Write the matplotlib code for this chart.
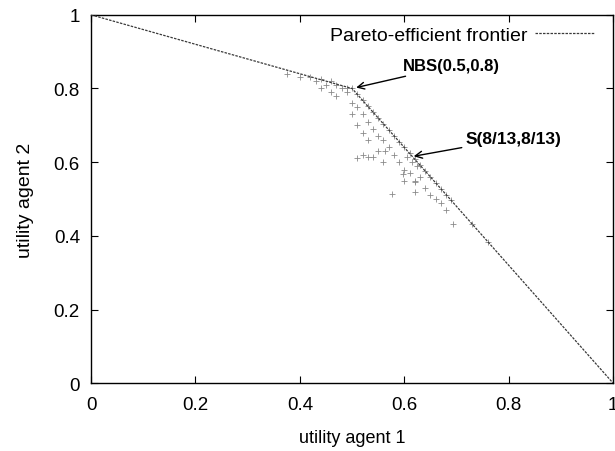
import matplotlib
matplotlib.use("Agg")
import matplotlib.pyplot as plt

plt.rcParams['font.family'] = ['Liberation Sans', 'DejaVu Sans']

# Pareto-efficient frontier vertices
frontier_x = [0.0, 0.5, 1.0]
frontier_y = [1.0, 0.8, 0.0]

# Negotiation outcomes (utility of agent 1, utility of agent 2)
outcome_x = [0.375, 0.40, 0.42, 0.43, 0.44, 0.45, 0.46, 0.47, 0.48, 0.49, 0.44, 0.46, 0.47, 0.49, 0.50,
             0.51, 0.52, 0.53, 0.54, 0.55, 0.56, 0.57, 0.58, 0.59, 0.60, 0.61, 0.62, 0.63, 0.64,
             0.65, 0.66, 0.67, 0.68, 0.69, 0.73, 0.76,
             0.50, 0.50, 0.51, 0.51, 0.52, 0.52, 0.53, 0.53, 0.54, 0.55, 0.55, 0.56, 0.57, 0.56,
             0.58, 0.59, 0.60, 0.60, 0.61, 0.62, 0.63, 0.62, 0.64, 0.65, 0.66, 0.67, 0.68,
             0.53, 0.54, 0.563, 0.598, 0.577, 0.693, 0.621, 0.52, 0.51, 0.615, 0.625, 0.605]
outcome_y = [0.84, 0.83, 0.83, 0.82, 0.825, 0.81, 0.82, 0.81, 0.80, 0.80, 0.80, 0.79, 0.78, 0.79, 0.80,
             0.784, 0.768, 0.752, 0.736, 0.72, 0.704, 0.688, 0.672, 0.656, 0.64, 0.624, 0.608, 0.592, 0.576,
             0.56, 0.544, 0.528, 0.512, 0.496, 0.432, 0.384,
             0.76, 0.73, 0.75, 0.70, 0.73, 0.68, 0.71, 0.66, 0.69, 0.67, 0.63, 0.66, 0.64, 0.60,
             0.62, 0.60, 0.58, 0.55, 0.57, 0.55, 0.56, 0.52, 0.53, 0.51, 0.50, 0.49, 0.47,
             0.614, 0.614, 0.63, 0.568, 0.514, 0.432, 0.546, 0.62, 0.61, 0.60, 0.59, 0.615]

x_ticks = [0, 0.2, 0.4, 0.6, 0.8, 1]
y_ticks = [0, 0.2, 0.4, 0.6, 0.8, 1]
tick_labels = ['0', '0.2', '0.4', '0.6', '0.8', '1']

nbs = (0.5, 0.8)
sol = (8 / 13, 8 / 13)

fig = plt.figure(figsize=(6.15, 4.52), dpi=100)
ax = fig.add_axes([0.148, 0.150, 0.849, 0.815])

ax.scatter(outcome_x, outcome_y, marker='+', s=24, color='#8a8a8a', linewidths=0.6, zorder=2)
ax.plot(frontier_x, frontier_y, color='#3a3a3a', lw=0.9, linestyle=(0, (2, 1)),
        label='Pareto-efficient frontier', zorder=3)

ax.annotate('NBS(0.5,0.8)', xy=nbs, xytext=(0.598, 0.862),
            fontsize=12, fontweight='bold', va='center', ha='left',
            arrowprops=dict(arrowstyle='->', color='black', lw=1.0, shrinkA=1, shrinkB=3))
ax.annotate('S(8/13,8/13)', xy=sol, xytext=(0.718, 0.665),
            fontsize=12.5, fontweight='bold', va='center', ha='left',
            arrowprops=dict(arrowstyle='->', color='black', lw=1.0, shrinkA=1, shrinkB=1))

ax.set_xlim(0, 1)
ax.set_ylim(0, 1)
ax.set_xticks(x_ticks)
ax.set_xticklabels(tick_labels)
ax.set_yticks(y_ticks)
ax.set_yticklabels(tick_labels)
ax.tick_params(direction='in', top=True, right=True, length=5, labelsize=13.5)
ax.tick_params(axis='x', pad=9)
ax.tick_params(axis='y', pad=8)
for s in ax.spines.values():
    s.set_linewidth(1.0)

ax.set_xlabel('utility agent 1', fontsize=13, labelpad=12)
ax.set_ylabel('utility agent 2', fontsize=14, labelpad=14)

leg = ax.legend(loc='upper right', frameon=False, markerfirst=False, fontsize=14,
                handlelength=3.0, handletextpad=0.4, borderaxespad=0.2,
                bbox_to_anchor=(0.985, 1.0))

fig.savefig('out.png', dpi=100)
